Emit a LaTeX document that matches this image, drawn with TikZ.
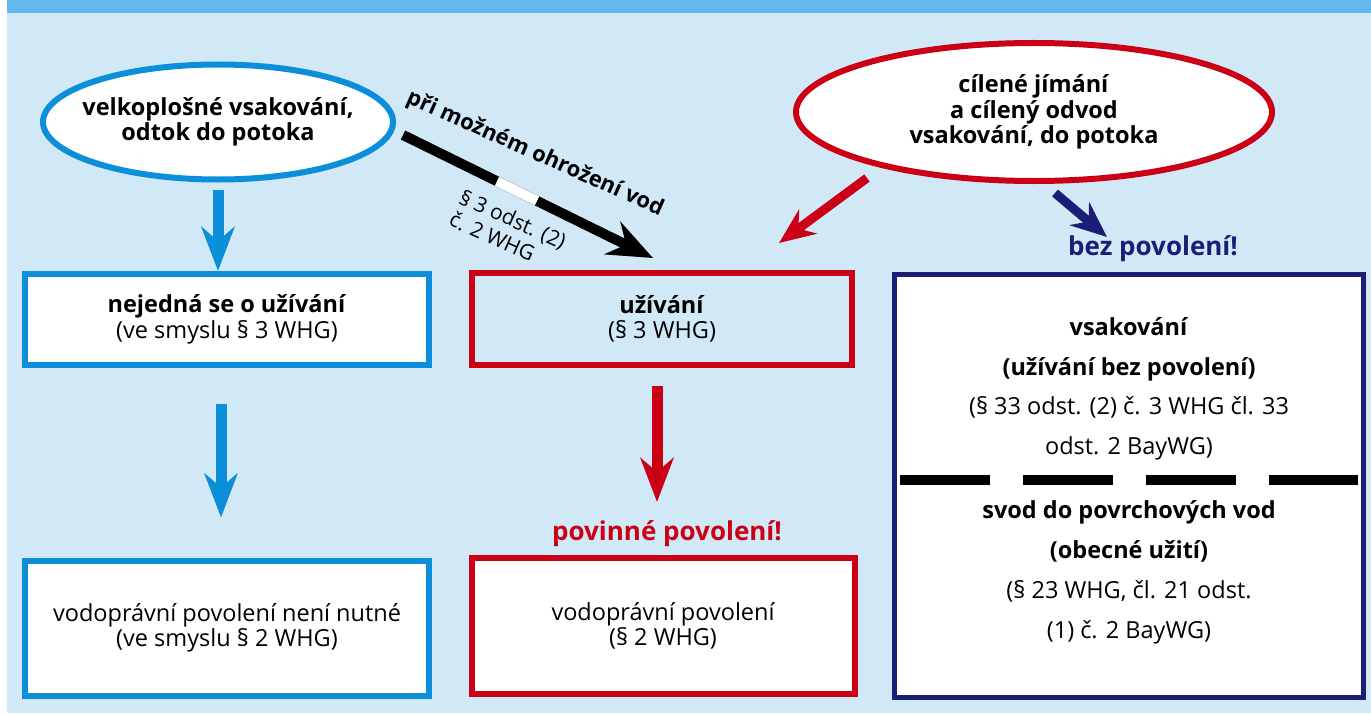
\documentclass[tikz,border=0pt]{standalone}
\usepackage{fontspec}
\setmainfont{Open Sans}
\usetikzlibrary{arrows.meta,positioning,calc,shapes.geometric}
\definecolor{paleblue}{HTML}{D1E8F7}
\definecolor{barblue}{HTML}{63BAEA}
\definecolor{waterblue}{HTML}{0B8FDB}
\definecolor{permitred}{HTML}{CC0014}
\definecolor{navy}{HTML}{1B1E77}

\begin{document}
\begin{tikzpicture}[x=1bp, y=-1bp,
                    every node/.style={align=center, font=\fontsize{23.5bp}{25.5bp}\selectfont},
                    oval/.style={ellipse, line width=6bp, fill=white, inner xsep=-30bp, inner ysep=0pt},
                    box/.style={rectangle, line width=6bp, fill=white},
                    bigarrow/.style={line width=11bp, -{Stealth[length=44bp, width=33bp, inset=14bp]}},
                    smallarrow/.style={line width=9bp, -{Stealth[length=36bp, width=30bp, inset=12bp]}},
                    shout/.style={font=\fontsize{26bp}{28bp}\selectfont\bfseries}]
  % Background and header bar.
  \fill[white] (0,0) rectangle (1371,713);
  \fill[paleblue] (7,0) rectangle (1371,713);
  \fill[barblue] (7,0) rectangle (1371,13);
  \useasboundingbox (0,0) rectangle (1371,713);

  % Sources.
  \node at (218,122) [oval, draw=waterblue, minimum width=350bp, minimum height=115bp, name=velko]
        {\textbf{velkoplošné vsakování,}\\\textbf{odtok do potoka}};
  \node at (1034,112) [oval, draw=permitred, minimum width=476bp, minimum height=138bp, name=cilene]
        {\textbf{cílené jímání}\\\textbf{a cílený odvod}\\\textbf{vsakování, do potoka}};

  % Boxes.
  \node at (227,319.5) [box, draw=waterblue, minimum width=404bp, minimum height=91bp, name=nejedna]
        {\textbf{nejedná se o užívání}\\(ve smyslu § 3 WHG)};
  \node at (662,319) [box, draw=permitred, fill=paleblue, minimum width=380bp, minimum height=92bp, name=uzivani]
        {\textbf{užívání}\\(§ 3 WHG)};
  \node at (227,628) [box, draw=waterblue, minimum width=404bp, minimum height=135bp, name=nenutne]
        {vodoprávní povolení není nutné\\(ve smyslu § 2 WHG)};
  \node at (663,626) [box, draw=permitred, minimum width=383bp, minimum height=136bp, name=povoleni]
        {vodoprávní povolení\\(§ 2 WHG)};
  \node at (1129,486) [box, draw=navy, line width=5bp, minimum width=469bp, minimum height=423bp, name=bezbox] {};
  \node at (1129,389) [font=\fontsize{23.5bp}{39.5bp}\selectfont, name=vsaktext]
        {\textbf{vsakování}\\\textbf{(užívání bez povolení)}\\(§ 33 odst. (2) č. 3 WHG čl. 33\\odst. 2 BayWG)};
  \node at (1129,572.5) [font=\fontsize{23.5bp}{40bp}\selectfont, name=svodtext]
        {\textbf{svod do povrchových vod}\\\textbf{(obecné užití)}\\(§ 23 WHG, čl. 21 odst.\\(1) č. 2 BayWG)};
  \draw[line width=10bp, dash pattern=on 90bp off 33bp]
        ([xshift=8bp]bezbox.west |- 0,480) -- ([xshift=-8bp]bezbox.east |- 0,480);

  % Verdicts.
  \node at (667,534) [shout, text=permitred, name=povinne] {povinné povolení!};
  \node at (1153,249) [shout, text=navy, name=bezpov] {bez povolení!};

  % Free ends of the slanted arrows.
  \coordinate (redfrom) at (867,178);
  \coordinate (redto) at (779,243);
  \coordinate (navyfrom) at (1055,193);
  \coordinate (navyto) at (1107,237);
  \coordinate (blackfrom) at (403,135);
  \coordinate (blackto) at (653,258);

  % Arrows.
  \draw [bigarrow, waterblue, shorten <=7bp] (velko.south) -- (velko.south |- nejedna.north);
  \draw [bigarrow, waterblue, shorten <=36bp, shorten >=40bp]
        ([xshift=-6bp]nejedna.south) -- ([xshift=-6bp]nejedna.south |- nenutne.north);
  \draw [bigarrow, permitred, shorten <=18bp, shorten >=53bp]
        ([xshift=-5bp]uzivani.south) -- ([xshift=-5bp]uzivani.south |- povoleni.north);
  \draw [smallarrow, permitred] (redfrom) -- (redto);
  \draw [smallarrow, navy] (navyfrom) -- (navyto);
  \draw [line width=10bp, -{Stealth[length=45bp, width=36bp, inset=15bp]}] (blackfrom) -- (blackto);
  \draw [white, line width=10bp] ($(blackfrom)!0.376!(blackto)$) -- ($(blackfrom)!0.536!(blackto)$);

  % Labels of the black arrow.
  \node at (535,154) [rotate=-24, font=\fontsize{22bp}{25bp}\selectfont\bfseries, name=ohrozeni]
        {při možném ohrožení vod};
  \node at (508,230) [rotate=-24, align=left, font=\fontsize{21bp}{24bp}\selectfont, name=paragraf]
        {§ 3 odst. (2)\\č. 2 WHG};
\end{tikzpicture}
\end{document}
